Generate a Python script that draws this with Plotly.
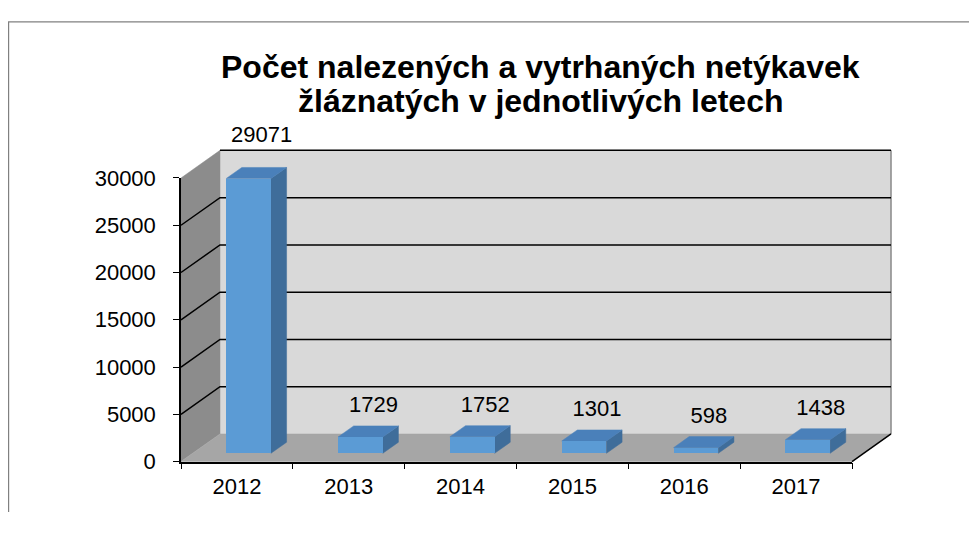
import plotly.graph_objects as go

# ---------------- data ----------------
years = ["2012", "2013", "2014", "2015", "2016", "2017"]
counts = [29071, 1729, 1752, 1301, 598, 1438]
y_ticks = [0, 5000, 10000, 15000, 20000, 25000, 30000]
title_lines = ["Počet nalezených a vytrhaných netýkavek", "žláznatých v jednotlivých letech"]

# ---------------- layout constants (screen pixels) ----------------
SW, SH = 977, 533            # screen size
OFF = 8                      # page body margin
W, H = SW - 2 * OFF, SH - 2 * OFF   # figure size
FX0, FX1 = 181, 852          # front plane left / right
FY0, FY1 = 472, 174          # front plane 0 / max value
YMAX = 30000
DEP_X, DEP_Y = 39, 29        # full depth offset in pixels
PAD = 12
PAD_TOP = 45
FONT = "Liberation Sans, Arial, sans-serif"


def px(x):   # screen x -> paper fraction
    return (x - OFF) / W


def py(y):   # screen y -> paper fraction
    return 1 - (y - OFF) / H


n = len(years)
cat_px = (FX1 - FX0) / n
val_px = (FY0 - FY1) / YMAX
DX = DEP_X / cat_px
DY = DEP_Y / val_px

# drawing subplot box (screen pixels)
bx0, bx1 = FX0 - PAD, FX1 + DEP_X + PAD
by_top, by_bot = FY1 - DEP_Y - PAD_TOP, FY0 + PAD
xr = [(bx0 - FX0) / cat_px - 0.5, (bx1 - FX0) / cat_px - 0.5]
yr = [(FY0 - by_bot) / val_px, (FY0 - by_top) / val_px]

L, R = -0.5, n - 0.5

fig = go.Figure()


def poly(xs, ys, color):
    fig.add_trace(go.Scatter(
        x=list(xs) + [xs[0]], y=list(ys) + [ys[0]], mode="lines", fill="toself",
        fillcolor=color, line=dict(color=color, width=0.5),
        hoverinfo="skip", showlegend=False, xaxis="x", yaxis="y"))


# back wall
poly([L + DX, R + DX, R + DX, L + DX], [DY, DY, YMAX + DY, YMAX + DY], "#d9d9d9")
# left wall
poly([L, L + DX, L + DX, L], [0, DY, YMAX + DY, YMAX], "#8c8c8c")
# floor
poly([L, R, R + DX, L + DX], [0, 0, DY, DY], "#a6a6a6")

# back wall right edge (gray)
fig.add_trace(go.Scatter(x=[R + DX, R + DX], y=[DY, YMAX + DY], mode="lines",
                         line=dict(color="#8a8a8a", width=1.5), hoverinfo="skip",
                         showlegend=False, xaxis="x", yaxis="y"))

# gridlines
gx, gy = [], []
for v in y_ticks[1:]:
    if v < YMAX:
        gx += [L, L + DX, R + DX, None]
        gy += [v, v + DY, v + DY, None]
    else:
        gx += [L + DX, R + DX, None]
        gy += [v + DY, v + DY, None]
# floor right diagonal edge
gx += [R, R + DX, None]
gy += [0, DY, None]
fig.add_trace(go.Scatter(x=gx, y=gy, mode="lines", line=dict(color="black", width=1.5),
                         hoverinfo="skip", showlegend=False, xaxis="x", yaxis="y"))

# bar side and top faces
BW = 0.4
Z0, Z1 = 0.3, 0.7
for i, v in enumerate(counts):
    x0 = i - BW / 2 + Z0 * DX
    x1 = i + BW / 2 + Z0 * DX
    y0 = Z0 * DY
    y1 = v + Z0 * DY
    ddx, ddy = (Z1 - Z0) * DX, (Z1 - Z0) * DY
    poly([x1, x1 + ddx, x1 + ddx, x1], [y0, y0 + ddy, y1 + ddy, y1], "#3f6d9a")
    poly([x0, x1, x1 + ddx, x0 + ddx], [y1, y1, y1 + ddy, y1 + ddy], "#4a80ba")

# data labels (moved above the wall when they would cross its top edge)
wall_top_px = FY1 - DEP_Y
lx, ly = [], []
for i, v in enumerate(counts):
    back_top_px = FY0 - (v + Z1 * DY) * val_px
    lab_px = back_top_px - 20
    if lab_px + 10 > wall_top_px - 5 and lab_px - 10 < wall_top_px + 5:
        lab_px = wall_top_px - 15
    lx.append(i + 0.633 * DX)
    ly.append((FY0 - lab_px) / val_px)
fig.add_trace(go.Scatter(x=lx, y=ly, mode="text", text=[str(c) for c in counts],
                         textposition="middle center", cliponaxis=False,
                         textfont=dict(family=FONT, size=22, color="black"),
                         hoverinfo="skip", showlegend=False, xaxis="x", yaxis="y"))

# front faces of bars (on the visible-axis subplot)
fig.add_trace(go.Bar(x=years, y=counts, base=Z0 * DY, width=BW,
                     offset=-BW / 2 + Z0 * DX, marker=dict(color="#5b9bd5", line=dict(width=0)),
                     hoverinfo="skip", showlegend=False, xaxis="x2", yaxis="y2"))

fig.update_layout(
    width=W, height=H, margin=dict(l=0, r=0, t=0, b=0),
    paper_bgcolor="white", plot_bgcolor="rgba(0,0,0,0)",
    showlegend=False, bargap=0,
    xaxis=dict(domain=[px(bx0), px(bx1)], range=xr, visible=False, fixedrange=True),
    yaxis=dict(domain=[py(by_bot), py(by_top)], range=yr, visible=False, fixedrange=True),
    xaxis2=dict(domain=[px(FX0), px(FX1)], anchor="y2", type="category",
                range=[-0.5, n - 0.5], tickson="boundaries", ticks="outside", ticklen=6,
                tickwidth=1.2, tickcolor="black", showline=True, linecolor="black", linewidth=1.5,
                showgrid=False, zeroline=False, ticklabelstandoff=4,
                tickfont=dict(family=FONT, size=22, color="black")),
    yaxis2=dict(domain=[py(FY0), py(FY1)], anchor="x2", range=[0, YMAX],
                tickvals=y_ticks, tickformat="d", ticks="outside", ticklen=6, tickwidth=1.2,
                tickcolor="black", showline=True, linecolor="black", linewidth=1.5,
                showgrid=False, zeroline=False, ticklabelstandoff=13,
                tickfont=dict(family=FONT, size=22, color="black")),
    shapes=[
        dict(type="line", xref="paper", yref="paper", x0=0, x1=1, y0=py(10), y1=py(10),
             line=dict(color="#808080", width=1.2)),
        dict(type="line", xref="paper", yref="paper", x0=0.6 / W, x1=0.6 / W, y0=0, y1=py(10),
             line=dict(color="#808080", width=1.2)),
    ],
    annotations=[
        dict(text="<b>" + title_lines[0] + "</b>", xref="paper", yref="paper",
             x=px(540), y=py(57), xanchor="center", yanchor="middle", showarrow=False,
             font=dict(family=FONT, size=32, color="black")),
        dict(text="<b>" + title_lines[1] + "</b>", xref="paper", yref="paper",
             x=px(540), y=py(93), xanchor="center", yanchor="middle", showarrow=False,
             font=dict(family=FONT, size=32, color="black")),
    ],
)

fig.write_html("out.html")
